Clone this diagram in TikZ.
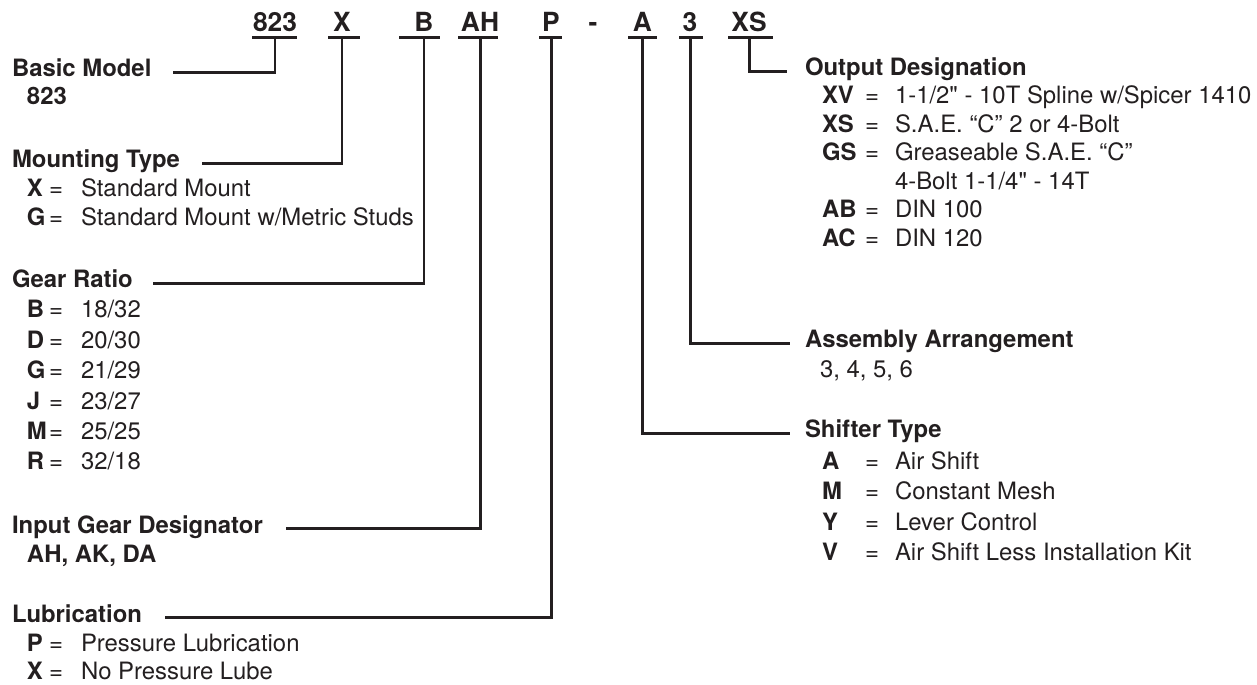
\documentclass[tikz,border=0pt]{standalone}
\usepackage{fontspec}
\setmainfont{TeX Gyre Heros}[Ligatures=TeXOff]
\usetikzlibrary{calc}
\definecolor{ink}{RGB}{35,31,32}

\begin{document}
\begin{tikzpicture}
[
	x=0.02cm, y=-0.02cm,
	every node/.style={inner sep=0pt, outer sep=0pt, text=ink},
	code/.style={font=\fontsize{15}{18}\selectfont\bfseries, anchor=base},
	bar/.style={fill=ink, minimum height=1.7pt},
	head/.style={font=\fontsize{13.6}{16}\selectfont\bfseries, anchor=base west},
	key/.style={font=\fontsize{13.6}{16}\selectfont\bfseries, anchor=base west},
	eq/.style={font=\fontsize{13.6}{16}\selectfont, anchor=base},
	val/.style={font=\fontsize{13.6}{16}\selectfont, anchor=base west},
	conn/.style={draw=ink, line width=1.7pt}
]
	\useasboundingbox (0,0) rectangle (1257,685);

	% model code line
	\foreach \n/\tx/\ux/\w in {823/275/274.5/45, X/342/344/32, B/424/419.5/41, AH/480/478/40, P/551/550.5/23, A/642.5/642.5/29, 3/690/691/24, XS/749/750.5/45}
	{
		\node[code] (c\n) at (\tx,32) {\n};
		\node[bar, minimum width=\w*0.02cm] (u\n) at (\ux,37.5) {};
	}
	\node[code] (dash) at (593,32) {-};

	% left side
	\node[head] (basic) at (12,77) {Basic Model};
	\node[key] (basic-k) at (27,105) {823};

	\node[head] (mount) at (12,168) {Mounting Type};
	\foreach \k/\v [count=\i from 0] in {X/Standard Mount, G/{Standard Mount w/Metric Studs}}
	{
		\node[key] (mt-k\i) at (27,197+28.5*\i) {\k};
		\node[eq] (mt-e\i) at (56,197+28.5*\i) {=};
		\node[val] (mt-v\i) at (81,197+28.5*\i) {\v};
	}

	\node[head] (gear) at (12,288) {Gear Ratio};
	\foreach \k/\v [count=\i from 0] in {B/{18/32}, D/{20/30}, G/{21/29}, J/{23/27}, M/{25/25}, R/{32/18}}
	{
		\node[key] (gr-k\i) at (27,318+30.4*\i) {\k};
		\node[eq] (gr-e\i) at (56,318+30.4*\i) {=};
		\node[val] (gr-v\i) at (81,318+30.4*\i) {\v};
	}

	\node[head] (input) at (12,533) {Input Gear Designator};
	\node[key] (input-k) at (27,562) {AH, AK, DA};

	\node[head] (lube) at (12,622) {Lubrication};
	\foreach \k/\v [count=\i from 0] in {P/Pressure Lubrication, X/No Pressure Lube}
	{
		\node[key] (lu-k\i) at (27,651+28.5*\i) {\k};
		\node[eq] (lu-e\i) at (56,651+28.5*\i) {=};
		\node[val] (lu-v\i) at (81,651+28.5*\i) {\v};
	}

	% right side
	\node[head] (outd) at (805,76) {Output Designation};
	\foreach \k/\v/\y in {XV/{1-1/2" - 10T Spline w/Spicer 1410}/104, XS/{S.A.E. “C” 2 or 4-Bolt}/132.5, GS/{Greaseable S.A.E. “C”}/161, AB/DIN 100/218, AC/DIN 120/246.5}
	{
		\node[key] (od-k\k) at (822,\y) {\k};
		\node[eq] (od-e\k) at (872,\y) {=};
		\node[val] (od-v\k) at (895,\y) {\v};
	}
	\node[val] (od-gs2) at (895,189.5) {4-Bolt 1-1/4" - 14T};

	\node[head] (assy) at (805,348) {Assembly Arrangement};
	\node[val] (assy-v) at (820,378) {3, 4, 5, 6};

	\node[head] (shift) at (805,438) {Shifter Type};
	\foreach \k/\v [count=\i from 0] in {A/Air Shift, M/Constant Mesh, Y/Lever Control, V/Air Shift Less Installation Kit}
	{
		\node[key] (sh-k\i) at (822,470+30*\i) {\k};
		\node[eq] (sh-e\i) at (872,470+30*\i) {=};
		\node[val] (sh-v\i) at (895,470+30*\i) {\v};
	}

	% connectors
	\draw[conn] (c823 |- u823) |- ($(basic.mid east)+(22,0)$);
	\draw[conn] (cX |- uX) |- ($(mount.mid east)+(22,0)$);
	\draw[conn] (cB |- uB) |- ($(gear.mid east)+(20,0)$);
	\draw[conn] (cAH |- uAH) |- ($(input.mid east)+(23,0)$);
	\draw[conn] (cP |- uP) |- ($(lube.mid east)+(23,0)$);
	\draw[conn] (cA |- uA) |- ($(shift.mid west)+(-15,0)$);
	\draw[conn] (c3 |- u3) |- ($(assy.mid west)+(-15,0)$);
	\draw[conn] (cXS |- uXS) |- ($(outd.mid west)+(-18,0)$);

\end{tikzpicture}
\end{document}
